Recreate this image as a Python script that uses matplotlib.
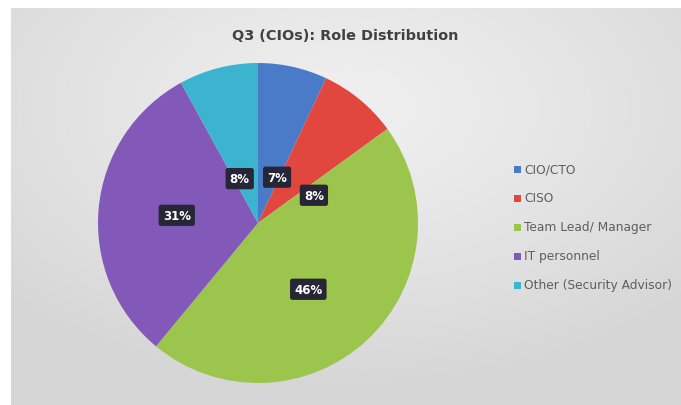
import numpy as np
import matplotlib
matplotlib.use("Agg")
import matplotlib.pyplot as plt

title = "Q3 (CIOs): Role Distribution"
roles = ["CIO/CTO", "CISO", "Team Lead/ Manager", "IT personnel", "Other (Security Advisor)"]
shares = [7, 8, 46, 31, 8]
colors = ["#4a7bc8", "#e2473f", "#9cc54e", "#8259b8", "#3cb3cf"]

W, H = 681, 406
fig = plt.figure(figsize=(W / 100, H / 100), dpi=100)
fig.patch.set_facecolor("white")

# Gradient chart-area background
bg = fig.add_axes([11 / W, 0, 1 - 11 / W, 1 - 9 / H])
bg.set_axis_off()
yy, xx = np.mgrid[0:200, 0:340]
cx, cy = 170, 50
d = np.sqrt(((xx - cx) / 340) ** 2 + ((yy - cy) / 200) ** 2)
val = 0.94 - 0.10 * np.clip(d / 0.7, 0, 1) ** 1.2
bg.imshow(np.dstack([val, val, val]), aspect="auto", extent=[0, 1, 0, 1],
          origin="upper", interpolation="bilinear")
bg.set_xlim(0, 1)
bg.set_ylim(0, 1)

# Pie
cxp, cyp, r = 258, 224, 160
ax = fig.add_axes([(cxp - r) / W, (H - cyp - r) / H, 2 * r / W, 2 * r / H])
wedges, _ = ax.pie(shares, colors=colors, startangle=90, counterclock=False,
                   radius=1.0, wedgeprops=dict(linewidth=0))
ax.set_xlim(-1, 1)
ax.set_ylim(-1, 1)
ax.set_aspect("auto")

# Data-label placement: (radius fraction, angular shift in degrees)
label_place = [(0.31, -10), (0.39, -24), (0.52, -6), (0.51, 0), (0.30, 8)]
for w, s, (lr, shift) in zip(wedges, shares, label_place):
    ang = np.deg2rad((w.theta1 + w.theta2) / 2 + shift)
    x, y = lr * np.cos(ang), lr * np.sin(ang)
    ax.text(x, y, f"{s}%", ha="center", va="center", color="white",
            fontsize=8.5, fontweight="bold",
            bbox=dict(boxstyle="round,pad=0.35,rounding_size=0.2",
                      facecolor="#262636", edgecolor="none"))

fig.text(345 / W, 1 - 36 / H, title, ha="center", va="center",
         fontsize=10.4, fontweight="bold", color="#404040")

# Legend
leg_y = [170, 199, 228, 257, 286]
for name, c, ly in zip(roles, colors, leg_y):
    fig.patches.append(plt.Rectangle((514 / W, 1 - (ly + 3.5) / H), 7 / W, 7 / H,
                                     transform=fig.transFigure, facecolor=c,
                                     edgecolor="none"))
    fig.text(524 / W, 1 - ly / H, name, ha="left", va="center",
             fontsize=8.8, color="#5e5e5e")

fig.savefig("out.png", dpi=100)
